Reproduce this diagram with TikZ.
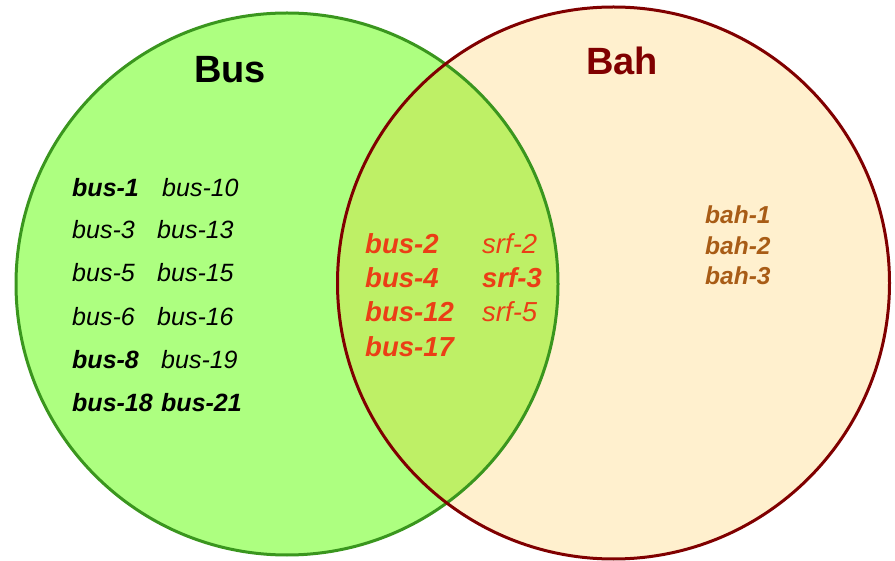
\documentclass[tikz,border=0pt]{standalone}
\usepackage{fontspec}
\setmainfont{Liberation Sans}
\definecolor{busfill}{RGB}{173,255,128}
\definecolor{busline}{RGB}{58,150,30}
\definecolor{bahfill}{RGB}{255,240,206}
\definecolor{bahline}{RGB}{128,0,0}
\definecolor{interfill}{RGB}{190,240,102}
\definecolor{midred}{RGB}{235,62,22}
\definecolor{bahbrown}{RGB}{168,92,22}
\tikzset{
  titlebus/.style={font=\fontsize{38}{44}\selectfont\bfseries, anchor=base, inner sep=0pt},
  leftit/.style={font=\fontsize{25}{29}\selectfont\itshape, anchor=base west, inner sep=0pt},
  leftbf/.style={font=\fontsize{25}{29}\selectfont\bfseries\itshape, anchor=base west, inner sep=0pt},
  midit/.style={font=\fontsize{27.5}{31}\selectfont\itshape, text=midred, anchor=base west, inner sep=0pt},
  midbf/.style={font=\fontsize{27.5}{31}\selectfont\bfseries\itshape, text=midred, anchor=base west, inner sep=0pt},
  bahtxt/.style={font=\fontsize{24.5}{28}\selectfont\bfseries\itshape, text=bahbrown, anchor=base west, inner sep=0pt},
}
\begin{document}
\begin{tikzpicture}[x=1pt,y=-1pt]
\useasboundingbox (0,0) rectangle (895,561);
% circles
\fill[busfill] (287,284) circle [radius=271pt];
\fill[bahfill] (613.5,283) circle [radius=276pt];
\begin{scope}
  \clip (287,284) circle [radius=271pt];
  \fill[interfill] (613.5,283) circle [radius=276pt];
\end{scope}
\draw[busline, line width=3pt] (287,284) circle [radius=271pt];
\draw[bahline, line width=3pt] (613.5,283) circle [radius=276pt];
% titles
\node[titlebus] (tbus) at (230,83) {Bus};
\node[titlebus, text=bahline] (tbah) at (622,75) {Bah};
% left column
\node[leftbf] (b1) at (72,197) {bus-1};
\node[leftit] (b10) at (162,197) {bus-10};
\node[leftit] (b3) at (72,239) {bus-3};
\node[leftit] (b13) at (157,239) {bus-13};
\node[leftit] (b5) at (72,282) {bus-5};
\node[leftit] (b15) at (157,282) {bus-15};
\node[leftit] (b6) at (72,326) {bus-6};
\node[leftit] (b16) at (157,326) {bus-16};
\node[leftbf] (b8) at (72,369) {bus-8};
\node[leftit] (b19) at (161,369) {bus-19};
\node[leftbf] (b18) at (72,412) {bus-18};
\node[leftbf] (b21) at (161,412) {bus-21};
% middle
\node[midbf] (m2) at (365,254) {bus-2};
\node[midbf] (m4) at (365,288) {bus-4};
\node[midbf] (m12) at (365,322) {bus-12};
\node[midbf] (m17) at (365,357) {bus-17};
\node[midit] (s2) at (482,254) {srf-2};
\node[midbf] (s3) at (482,288) {srf-3};
\node[midit] (s5) at (482,322) {srf-5};
% bah
\node[bahtxt] (h1) at (705,224) {bah-1};
\node[bahtxt] (h2) at (705,254.5) {bah-2};
\node[bahtxt] (h3) at (705,285) {bah-3};
\end{tikzpicture}
\end{document}
